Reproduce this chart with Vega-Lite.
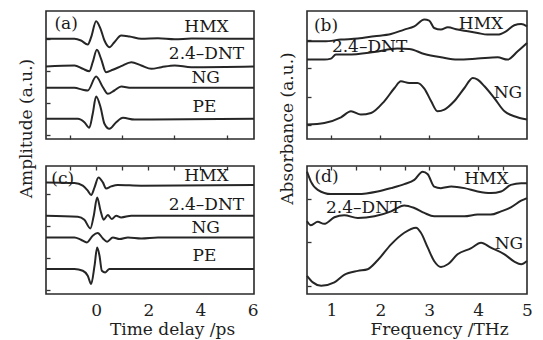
{
  "$schema": "https://vega.github.io/schema/vega-lite/v6.json",
  "background": "white",
  "padding": {"left": 16, "top": 10, "right": 5, "bottom": 2},
  "bounds": "flush",
  "columns": 2,
  "spacing": {"row": 27, "column": 53},
  "config": {
    "view": {"stroke": "#2a2a2a", "strokeWidth": 1.6},
    "font": "DejaVu Serif",
    "axis": {"domain": false, "grid": false, "tickColor": "#333", "tickSize": -4, "tickWidth": 1.3, "labelFont": "DejaVu Serif", "labelFontSize": 17, "labelColor": "#1e1e1e", "labelPadding": 10, "labelOverlap": false, "labelFlush": false, "titleFont": "DejaVu Serif", "titleFontSize": 17, "titleFontWeight": "normal", "titleColor": "#1e1e1e"},
    "line": {"color": "#262626", "strokeWidth": 2, "interpolate": "monotone"},
    "text": {"font": "DejaVu Serif", "fontSize": 17, "color": "#1a1a1a", "align": "center", "baseline": "middle"}
  },
  "datasets": {
    "curves": [
      {"panel": "a", "series": "HMX", "x": -1.92, "y": 100.2}, {"panel": "a", "series": "HMX", "x": -0.83, "y": 100.2}, {"panel": "a", "series": "HMX", "x": -0.58, "y": 98.5}, {"panel": "a", "series": "HMX", "x": -0.32, "y": 94.5}, {"panel": "a", "series": "HMX", "x": -0.19, "y": 101.8}, {"panel": "a", "series": "HMX", "x": 0, "y": 117.8}, {"panel": "a", "series": "HMX", "x": 0.17, "y": 110.2}, {"panel": "a", "series": "HMX", "x": 0.32, "y": 98.5}, {"panel": "a", "series": "HMX", "x": 0.51, "y": 91.8}, {"panel": "a", "series": "HMX", "x": 0.7, "y": 96.8}, {"panel": "a", "series": "HMX", "x": 0.96, "y": 103.5}, {"panel": "a", "series": "HMX", "x": 1.28, "y": 102.5}, {"panel": "a", "series": "HMX", "x": 1.73, "y": 100.2}, {"panel": "a", "series": "HMX", "x": 2.37, "y": 100.8}, {"panel": "a", "series": "HMX", "x": 3.01, "y": 99.8}, {"panel": "a", "series": "HMX", "x": 3.65, "y": 100.4}, {"panel": "a", "series": "HMX", "x": 6.05, "y": 100.2},
      {"panel": "a", "series": "DNT", "x": -1.92, "y": 72.5}, {"panel": "a", "series": "DNT", "x": -0.83, "y": 73.5}, {"panel": "a", "series": "DNT", "x": -0.51, "y": 70.2}, {"panel": "a", "series": "DNT", "x": -0.26, "y": 67.8}, {"panel": "a", "series": "DNT", "x": -0.13, "y": 76.8}, {"panel": "a", "series": "DNT", "x": 0.03, "y": 89.2}, {"panel": "a", "series": "DNT", "x": 0.19, "y": 80.2}, {"panel": "a", "series": "DNT", "x": 0.38, "y": 66.8}, {"panel": "a", "series": "DNT", "x": 0.64, "y": 69.2}, {"panel": "a", "series": "DNT", "x": 0.96, "y": 72.8}, {"panel": "a", "series": "DNT", "x": 1.35, "y": 76.8}, {"panel": "a", "series": "DNT", "x": 1.73, "y": 73.5}, {"panel": "a", "series": "DNT", "x": 2.12, "y": 70.2}, {"panel": "a", "series": "DNT", "x": 2.5, "y": 71.8}, {"panel": "a", "series": "DNT", "x": 3.01, "y": 73.5}, {"panel": "a", "series": "DNT", "x": 3.65, "y": 71.8}, {"panel": "a", "series": "DNT", "x": 6.05, "y": 72.5},
      {"panel": "a", "series": "NG", "x": -1.92, "y": 51.2}, {"panel": "a", "series": "NG", "x": -0.83, "y": 51.2}, {"panel": "a", "series": "NG", "x": -0.51, "y": 49.2}, {"panel": "a", "series": "NG", "x": -0.32, "y": 48.5}, {"panel": "a", "series": "NG", "x": 0, "y": 62.5}, {"panel": "a", "series": "NG", "x": 0.26, "y": 51.8}, {"panel": "a", "series": "NG", "x": 0.45, "y": 45.2}, {"panel": "a", "series": "NG", "x": 0.7, "y": 48.5}, {"panel": "a", "series": "NG", "x": 0.96, "y": 52.5}, {"panel": "a", "series": "NG", "x": 1.35, "y": 51.2}, {"panel": "a", "series": "NG", "x": 6.05, "y": 51.2},
      {"panel": "a", "series": "PE", "x": -1.92, "y": 20.2}, {"panel": "a", "series": "PE", "x": -0.7, "y": 20.2}, {"panel": "a", "series": "PE", "x": -0.45, "y": 16.8}, {"panel": "a", "series": "PE", "x": -0.26, "y": 11.2}, {"panel": "a", "series": "PE", "x": -0.13, "y": 25.2}, {"panel": "a", "series": "PE", "x": 0, "y": 42.5}, {"panel": "a", "series": "PE", "x": 0.17, "y": 31.8}, {"panel": "a", "series": "PE", "x": 0.32, "y": 15.2}, {"panel": "a", "series": "PE", "x": 0.51, "y": 10.2}, {"panel": "a", "series": "PE", "x": 0.77, "y": 16.8}, {"panel": "a", "series": "PE", "x": 1.03, "y": 21.2}, {"panel": "a", "series": "PE", "x": 1.47, "y": 19.5}, {"panel": "a", "series": "PE", "x": 6.05, "y": 20.2},
      {"panel": "c", "series": "HMX", "x": -1.92, "y": 111.6}, {"panel": "c", "series": "HMX", "x": -0.83, "y": 111}, {"panel": "c", "series": "HMX", "x": -0.51, "y": 108.3}, {"panel": "c", "series": "HMX", "x": -0.32, "y": 103.3}, {"panel": "c", "series": "HMX", "x": -0.19, "y": 99}, {"panel": "c", "series": "HMX", "x": -0.06, "y": 106.6}, {"panel": "c", "series": "HMX", "x": 0.09, "y": 116.6}, {"panel": "c", "series": "HMX", "x": 0.26, "y": 111.6}, {"panel": "c", "series": "HMX", "x": 0.38, "y": 105.6}, {"panel": "c", "series": "HMX", "x": 0.58, "y": 107.6}, {"panel": "c", "series": "HMX", "x": 0.83, "y": 109}, {"panel": "c", "series": "HMX", "x": 1.73, "y": 108.3}, {"panel": "c", "series": "HMX", "x": 6.05, "y": 109},
      {"panel": "c", "series": "DNT", "x": -1.92, "y": 78.3}, {"panel": "c", "series": "DNT", "x": -0.7, "y": 77.3}, {"panel": "c", "series": "DNT", "x": -0.45, "y": 74.3}, {"panel": "c", "series": "DNT", "x": -0.22, "y": 65.6}, {"panel": "c", "series": "DNT", "x": -0.09, "y": 78.3}, {"panel": "c", "series": "DNT", "x": 0.04, "y": 96.6}, {"panel": "c", "series": "DNT", "x": 0.17, "y": 83.3}, {"panel": "c", "series": "DNT", "x": 0.29, "y": 74.3}, {"panel": "c", "series": "DNT", "x": 0.45, "y": 79}, {"panel": "c", "series": "DNT", "x": 0.6, "y": 75}, {"panel": "c", "series": "DNT", "x": 0.77, "y": 78.3}, {"panel": "c", "series": "DNT", "x": 0.96, "y": 76.6}, {"panel": "c", "series": "DNT", "x": 1.35, "y": 78.3}, {"panel": "c", "series": "DNT", "x": 6.05, "y": 78.3},
      {"panel": "c", "series": "NG", "x": -1.92, "y": 56.6}, {"panel": "c", "series": "NG", "x": -0.83, "y": 56.6}, {"panel": "c", "series": "NG", "x": -0.58, "y": 54.3}, {"panel": "c", "series": "NG", "x": -0.35, "y": 51.6}, {"panel": "c", "series": "NG", "x": -0.13, "y": 58.3}, {"panel": "c", "series": "NG", "x": 0.06, "y": 61}, {"panel": "c", "series": "NG", "x": 0.26, "y": 55.6}, {"panel": "c", "series": "NG", "x": 0.42, "y": 52.3}, {"panel": "c", "series": "NG", "x": 0.64, "y": 56.6}, {"panel": "c", "series": "NG", "x": 0.9, "y": 55}, {"panel": "c", "series": "NG", "x": 1.22, "y": 56.6}, {"panel": "c", "series": "NG", "x": 1.73, "y": 55.6}, {"panel": "c", "series": "NG", "x": 2.37, "y": 56.6}, {"panel": "c", "series": "NG", "x": 6.05, "y": 56.6},
      {"panel": "c", "series": "PE", "x": -1.92, "y": 25}, {"panel": "c", "series": "PE", "x": -0.83, "y": 25}, {"panel": "c", "series": "PE", "x": -0.51, "y": 23.3}, {"panel": "c", "series": "PE", "x": -0.32, "y": 18.3}, {"panel": "c", "series": "PE", "x": -0.19, "y": 10}, {"panel": "c", "series": "PE", "x": -0.06, "y": 28.3}, {"panel": "c", "series": "PE", "x": 0.04, "y": 46.6}, {"panel": "c", "series": "PE", "x": 0.13, "y": 38.3}, {"panel": "c", "series": "PE", "x": 0.22, "y": 23.3}, {"panel": "c", "series": "PE", "x": 0.35, "y": 21.6}, {"panel": "c", "series": "PE", "x": 0.51, "y": 25}, {"panel": "c", "series": "PE", "x": 6.05, "y": 25},
      {"panel": "b", "series": "HMX", "x": 0.5, "y": 97.7}, {"panel": "b", "series": "HMX", "x": 0.855, "y": 97.7}, {"panel": "b", "series": "HMX", "x": 1.195, "y": 99.4}, {"panel": "b", "series": "HMX", "x": 1.536, "y": 100.4}, {"panel": "b", "series": "HMX", "x": 1.877, "y": 102.7}, {"panel": "b", "series": "HMX", "x": 2.218, "y": 105}, {"panel": "b", "series": "HMX", "x": 2.49, "y": 109.4}, {"panel": "b", "series": "HMX", "x": 2.695, "y": 112.7}, {"panel": "b", "series": "HMX", "x": 2.9, "y": 119.4}, {"panel": "b", "series": "HMX", "x": 3.0, "y": 118.4}, {"panel": "b", "series": "HMX", "x": 3.1, "y": 111}, {"panel": "b", "series": "HMX", "x": 3.24, "y": 109.4}, {"panel": "b", "series": "HMX", "x": 3.38, "y": 111.7}, {"panel": "b", "series": "HMX", "x": 3.58, "y": 109.4}, {"panel": "b", "series": "HMX", "x": 3.79, "y": 107.7}, {"panel": "b", "series": "HMX", "x": 3.99, "y": 106}, {"panel": "b", "series": "HMX", "x": 4.19, "y": 104.4}, {"panel": "b", "series": "HMX", "x": 4.4, "y": 104.4}, {"panel": "b", "series": "HMX", "x": 4.57, "y": 107.7}, {"panel": "b", "series": "HMX", "x": 4.74, "y": 113.7}, {"panel": "b", "series": "HMX", "x": 4.88, "y": 115}, {"panel": "b", "series": "HMX", "x": 5.0, "y": 112.7},
      {"panel": "b", "series": "DNT", "x": 0.5, "y": 79.4}, {"panel": "b", "series": "DNT", "x": 0.855, "y": 79.4}, {"panel": "b", "series": "DNT", "x": 0.99, "y": 80.4}, {"panel": "b", "series": "DNT", "x": 1.09, "y": 84.4}, {"panel": "b", "series": "DNT", "x": 1.33, "y": 84.4}, {"panel": "b", "series": "DNT", "x": 1.877, "y": 87}, {"panel": "b", "series": "DNT", "x": 2.35, "y": 90.4}, {"panel": "b", "series": "DNT", "x": 2.59, "y": 90}, {"panel": "b", "series": "DNT", "x": 2.9, "y": 85}, {"panel": "b", "series": "DNT", "x": 3.24, "y": 81.7}, {"panel": "b", "series": "DNT", "x": 3.58, "y": 79.4}, {"panel": "b", "series": "DNT", "x": 3.99, "y": 80.4}, {"panel": "b", "series": "DNT", "x": 4.4, "y": 81.7}, {"panel": "b", "series": "DNT", "x": 4.6, "y": 79.4}, {"panel": "b", "series": "DNT", "x": 4.81, "y": 87.7}, {"panel": "b", "series": "DNT", "x": 5.0, "y": 96},
      {"panel": "b", "series": "NG", "x": 0.5, "y": 14.4}, {"panel": "b", "series": "NG", "x": 0.855, "y": 16}, {"panel": "b", "series": "NG", "x": 1.195, "y": 21.7}, {"panel": "b", "series": "NG", "x": 1.4, "y": 27.7}, {"panel": "b", "series": "NG", "x": 1.6, "y": 24.4}, {"panel": "b", "series": "NG", "x": 1.81, "y": 26}, {"panel": "b", "series": "NG", "x": 2.08, "y": 37.7}, {"panel": "b", "series": "NG", "x": 2.29, "y": 51}, {"panel": "b", "series": "NG", "x": 2.42, "y": 57.7}, {"panel": "b", "series": "NG", "x": 2.59, "y": 56}, {"panel": "b", "series": "NG", "x": 2.76, "y": 56}, {"panel": "b", "series": "NG", "x": 2.9, "y": 50.4}, {"panel": "b", "series": "NG", "x": 3.04, "y": 37.7}, {"panel": "b", "series": "NG", "x": 3.17, "y": 27.7}, {"panel": "b", "series": "NG", "x": 3.31, "y": 29.4}, {"panel": "b", "series": "NG", "x": 3.51, "y": 37.7}, {"panel": "b", "series": "NG", "x": 3.72, "y": 51}, {"panel": "b", "series": "NG", "x": 3.89, "y": 61}, {"panel": "b", "series": "NG", "x": 3.99, "y": 59.4}, {"panel": "b", "series": "NG", "x": 4.13, "y": 52.7}, {"panel": "b", "series": "NG", "x": 4.33, "y": 41}, {"panel": "b", "series": "NG", "x": 4.54, "y": 27.7}, {"panel": "b", "series": "NG", "x": 4.74, "y": 22.7}, {"panel": "b", "series": "NG", "x": 5.0, "y": 19.4},
      {"panel": "d", "series": "HMX", "x": 0.5, "y": 123.3}, {"panel": "d", "series": "HMX", "x": 0.58, "y": 113.3}, {"panel": "d", "series": "HMX", "x": 0.72, "y": 105}, {"panel": "d", "series": "HMX", "x": 0.99, "y": 100.7}, {"panel": "d", "series": "HMX", "x": 1.536, "y": 100.7}, {"panel": "d", "series": "HMX", "x": 1.945, "y": 103.3}, {"panel": "d", "series": "HMX", "x": 2.218, "y": 106.7}, {"panel": "d", "series": "HMX", "x": 2.49, "y": 110.7}, {"panel": "d", "series": "HMX", "x": 2.695, "y": 115}, {"panel": "d", "series": "HMX", "x": 2.865, "y": 123.3}, {"panel": "d", "series": "HMX", "x": 2.97, "y": 120.7}, {"panel": "d", "series": "HMX", "x": 3.1, "y": 108.3}, {"panel": "d", "series": "HMX", "x": 3.24, "y": 106.7}, {"panel": "d", "series": "HMX", "x": 3.45, "y": 108.3}, {"panel": "d", "series": "HMX", "x": 3.72, "y": 106.7}, {"panel": "d", "series": "HMX", "x": 3.99, "y": 103.3}, {"panel": "d", "series": "HMX", "x": 4.26, "y": 101.7}, {"panel": "d", "series": "HMX", "x": 4.47, "y": 103.3}, {"panel": "d", "series": "HMX", "x": 4.67, "y": 110}, {"panel": "d", "series": "HMX", "x": 4.88, "y": 111.7}, {"panel": "d", "series": "HMX", "x": 5.0, "y": 111.7},
      {"panel": "d", "series": "DNT", "x": 0.5, "y": 73.3}, {"panel": "d", "series": "DNT", "x": 0.58, "y": 69.3}, {"panel": "d", "series": "DNT", "x": 0.72, "y": 72.7}, {"panel": "d", "series": "DNT", "x": 0.85, "y": 70.7}, {"panel": "d", "series": "DNT", "x": 1.06, "y": 77.3}, {"panel": "d", "series": "DNT", "x": 1.26, "y": 79.3}, {"panel": "d", "series": "DNT", "x": 1.54, "y": 76.7}, {"panel": "d", "series": "DNT", "x": 1.88, "y": 78.3}, {"panel": "d", "series": "DNT", "x": 2.22, "y": 83.3}, {"panel": "d", "series": "DNT", "x": 2.49, "y": 89.3}, {"panel": "d", "series": "DNT", "x": 2.695, "y": 86.7}, {"panel": "d", "series": "DNT", "x": 2.9, "y": 81.7}, {"panel": "d", "series": "DNT", "x": 3.1, "y": 78.3}, {"panel": "d", "series": "DNT", "x": 3.38, "y": 78.3}, {"panel": "d", "series": "DNT", "x": 3.72, "y": 78.3}, {"panel": "d", "series": "DNT", "x": 3.99, "y": 80}, {"panel": "d", "series": "DNT", "x": 4.26, "y": 80}, {"panel": "d", "series": "DNT", "x": 4.47, "y": 83.3}, {"panel": "d", "series": "DNT", "x": 4.67, "y": 87.3}, {"panel": "d", "series": "DNT", "x": 4.88, "y": 94}, {"panel": "d", "series": "DNT", "x": 5.0, "y": 96.7},
      {"panel": "d", "series": "NG", "x": 0.5, "y": 18.3}, {"panel": "d", "series": "NG", "x": 0.62, "y": 11.7}, {"panel": "d", "series": "NG", "x": 0.79, "y": 8.3}, {"panel": "d", "series": "NG", "x": 1.06, "y": 11.7}, {"panel": "d", "series": "NG", "x": 1.26, "y": 19.3}, {"panel": "d", "series": "NG", "x": 1.54, "y": 23.3}, {"panel": "d", "series": "NG", "x": 1.74, "y": 25}, {"panel": "d", "series": "NG", "x": 1.945, "y": 34}, {"panel": "d", "series": "NG", "x": 2.22, "y": 50}, {"panel": "d", "series": "NG", "x": 2.49, "y": 61.7}, {"panel": "d", "series": "NG", "x": 2.73, "y": 66.7}, {"panel": "d", "series": "NG", "x": 2.83, "y": 61.7}, {"panel": "d", "series": "NG", "x": 2.97, "y": 46.7}, {"panel": "d", "series": "NG", "x": 3.1, "y": 33.3}, {"panel": "d", "series": "NG", "x": 3.24, "y": 27.3}, {"panel": "d", "series": "NG", "x": 3.38, "y": 30}, {"panel": "d", "series": "NG", "x": 3.58, "y": 40}, {"panel": "d", "series": "NG", "x": 3.85, "y": 46}, {"panel": "d", "series": "NG", "x": 4.06, "y": 51.7}, {"panel": "d", "series": "NG", "x": 4.26, "y": 46.7}, {"panel": "d", "series": "NG", "x": 4.54, "y": 40}, {"panel": "d", "series": "NG", "x": 4.74, "y": 32.7}, {"panel": "d", "series": "NG", "x": 4.88, "y": 30}, {"panel": "d", "series": "NG", "x": 5.0, "y": 33.3}
    ],
    "labels": [
      {"panel": "a", "x": -1.15, "y": 115, "label": "(a)"}, {"panel": "a", "x": 4.23, "y": 112.5, "label": "HMX"}, {"panel": "a", "x": 4.23, "y": 85.5, "label": "2.4–DNT"}, {"panel": "a", "x": 4.2, "y": 61.5, "label": "NG"}, {"panel": "a", "x": 4.15, "y": 32.5, "label": "PE"},
      {"panel": "c", "x": -1.28, "y": 115, "label": "(c)"}, {"panel": "c", "x": 4.23, "y": 117.6, "label": "HMX"}, {"panel": "c", "x": 4.23, "y": 89.3, "label": "2.4–DNT"}, {"panel": "c", "x": 4.2, "y": 65.6, "label": "NG"}, {"panel": "c", "x": 4.15, "y": 38.3, "label": "PE"},
      {"panel": "b", "x": 0.89, "y": 113.5, "label": "(b)"}, {"panel": "b", "x": 4.06, "y": 115.5, "label": "HMX"}, {"panel": "b", "x": 1.78, "y": 92, "label": "2.4–DNT"}, {"panel": "b", "x": 4.61, "y": 46, "label": "NG"},
      {"panel": "d", "x": 0.9, "y": 117.5, "label": "(d)"}, {"panel": "d", "x": 4.17, "y": 115.5, "label": "HMX"}, {"panel": "d", "x": 1.66, "y": 86.5, "label": "2.4–DNT"}, {"panel": "d", "x": 4.63, "y": 50.5, "label": "NG"}
    ]
  },
  "concat": [
    {
      "width": 208, "height": 128,
      "layer": [
        {"data": {"name": "curves"}, "transform": [{"filter": "datum.panel == 'a'"}], "mark": {"type": "line"},
         "encoding": {
           "x": {"field": "x", "type": "quantitative", "scale": {"domain": [-1.92, 6.05], "nice": false, "zero": false}, "axis": {"title": null, "values": [-1, 0, 1, 2, 3, 4, 5], "labels": false}},
           "y": {"field": "y", "type": "quantitative", "scale": {"domain": [0, 128], "nice": false}, "axis": {"title": "Amplitude (a.u.)", "values": [4, 12, 20, 28, 36, 44, 52, 60, 68, 76, 84, 92, 100, 108, 116, 124], "labels": false, "titleX": -20, "titleY": 117, "titleAlign": "center", "titleBaseline": "middle", "titleAngle": -90}},
           "detail": {"field": "series"}}},
        {"data": {"name": "labels"}, "transform": [{"filter": "datum.panel == 'a'"}], "mark": {"type": "text"},
         "encoding": {"x": {"field": "x", "type": "quantitative"}, "y": {"field": "y", "type": "quantitative"}, "text": {"field": "label"}}}
      ]
    },
    {
      "width": 220, "height": 128,
      "layer": [
        {"data": {"name": "curves"}, "transform": [{"filter": "datum.panel == 'b'"}], "mark": {"type": "line"},
         "encoding": {
           "x": {"field": "x", "type": "quantitative", "scale": {"domain": [0.5, 5], "nice": false, "zero": false}, "axis": {"title": null, "values": [1, 1.5, 2, 2.5, 3, 3.5, 4, 4.5], "labels": false}},
           "y": {"field": "y", "type": "quantitative", "scale": {"domain": [0, 128], "nice": false}, "axis": {"title": "Absorbance (a.u.)", "values": [14, 42.5, 71, 99.5], "labels": false, "titleX": -20, "titleY": 117, "titleAlign": "center", "titleBaseline": "middle", "titleAngle": -90}},
           "detail": {"field": "series"}}},
        {"data": {"name": "labels"}, "transform": [{"filter": "datum.panel == 'b'"}], "mark": {"type": "text"},
         "encoding": {"x": {"field": "x", "type": "quantitative"}, "y": {"field": "y", "type": "quantitative"}, "text": {"field": "label"}}}
      ]
    },
    {
      "width": 208, "height": 128,
      "resolve": {"axis": {"x": "independent"}},
      "layer": [
        {"data": {"name": "curves"}, "transform": [{"filter": "datum.panel == 'c'"}], "mark": {"type": "line"},
         "encoding": {
           "x": {"field": "x", "type": "quantitative", "scale": {"domain": [-1.92, 6.05], "nice": false, "zero": false}, "axis": {"title": "Time delay /ps", "values": [0, 2, 4, 6], "ticks": false, "labelPadding": 8, "titleX": 126, "titleY": 35, "titleAlign": "center", "titleBaseline": "middle"}},
           "y": {"field": "y", "type": "quantitative", "scale": {"domain": [0, 128], "nice": false}, "axis": {"title": null, "values": [4, 12, 20, 28, 36, 44, 52, 60, 68, 76, 84, 92, 100, 108, 116, 124], "labels": false}},
           "detail": {"field": "series"}}},
        {"data": {"name": "labels"}, "transform": [{"filter": "datum.panel == 'c'"}], "mark": {"type": "text"},
         "encoding": {"x": {"field": "x", "type": "quantitative", "axis": {"title": null, "values": [-1, 0, 1, 2, 3, 4, 5], "labels": false}}, "y": {"field": "y", "type": "quantitative"}, "text": {"field": "label"}}}
      ]
    },
    {
      "width": 220, "height": 128,
      "resolve": {"axis": {"x": "independent"}},
      "layer": [
        {"data": {"name": "curves"}, "transform": [{"filter": "datum.panel == 'd'"}], "mark": {"type": "line"},
         "encoding": {
           "x": {"field": "x", "type": "quantitative", "scale": {"domain": [0.5, 5], "nice": false, "zero": false}, "axis": {"title": "Frequency /THz", "values": [1, 2, 3, 4, 5], "ticks": false, "labelPadding": 8, "titleX": 132, "titleY": 35, "titleAlign": "center", "titleBaseline": "middle"}},
           "y": {"field": "y", "type": "quantitative", "scale": {"domain": [0, 129], "nice": false}, "axis": {"title": null, "values": [8, 30, 52, 74, 96, 118], "labels": false}},
           "detail": {"field": "series"}}},
        {"data": {"name": "labels"}, "transform": [{"filter": "datum.panel == 'd'"}], "mark": {"type": "text"},
         "encoding": {"x": {"field": "x", "type": "quantitative", "axis": {"title": null, "values": [1, 1.5, 2, 2.5, 3, 3.5, 4, 4.5], "labels": false}}, "y": {"field": "y", "type": "quantitative"}, "text": {"field": "label"}}}
      ]
    }
  ]
}
